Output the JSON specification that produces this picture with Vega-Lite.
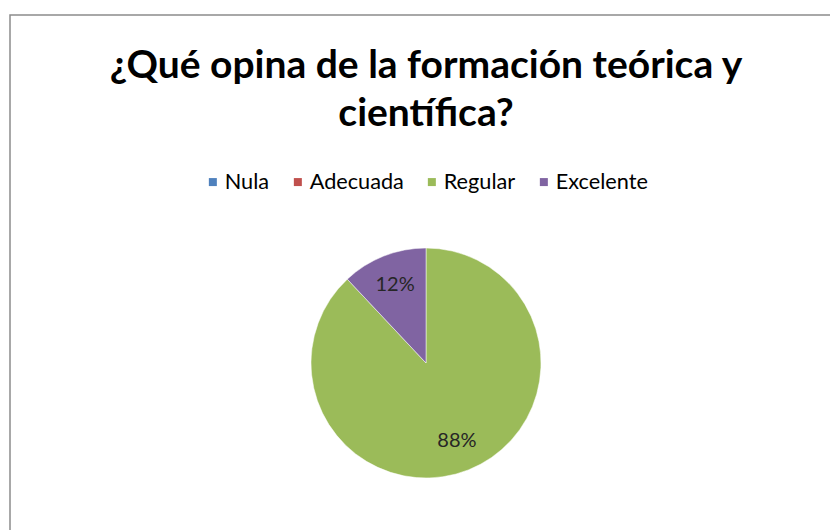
{
  "$schema": "https://vega.github.io/schema/vega-lite/v6.json",
  "autosize": {"type": "none"},
  "padding": {"left": 10, "top": 15, "right": 0, "bottom": 0},
  "width": 832,
  "height": 696,
  "background": "white",
  "view": {"stroke": "#8c8c8c", "strokeWidth": 1.5, "fill": "white"},
  "config": {
    "view": {"stroke": "#8c8c8c", "strokeWidth": 1.5},
    "font": "Lato"
  },
  "title": {
    "text": ["¿Qué opina de la formación teórica y", "científica?"],
    "anchor": "middle",
    "frame": "group",
    "orient": "top",
    "baseline": "top",
    "offset": -119,
    "font": "Lato",
    "fontSize": 39,
    "fontWeight": "bold",
    "color": "#000000",
    "lineHeight": 48
  },
  "data": {
    "values": [
      {"categoria": "Nula", "valor": 0, "orden": 1},
      {"categoria": "Adecuada", "valor": 0, "orden": 2},
      {"categoria": "Regular", "valor": 0.88, "orden": 3},
      {"categoria": "Excelente", "valor": 0.12, "orden": 4}
    ]
  },
  "encoding": {
    "theta": {"field": "valor", "type": "quantitative", "stack": true},
    "order": {"field": "orden", "type": "quantitative"},
    "color": {
      "field": "categoria",
      "type": "nominal",
      "sort": ["Nula", "Adecuada", "Regular", "Excelente"],
      "scale": {
        "domain": ["Nula", "Adecuada", "Regular", "Excelente"],
        "range": ["#4F81BD", "#C0504D", "#9BBB59", "#8064A2"]
      },
      "legend": {
        "title": null,
        "orient": "none",
        "direction": "horizontal",
        "legendX": 192,
        "legendY": 156,
        "symbolType": "square",
        "symbolSize": 64,
        "symbolStrokeWidth": 0,
        "labelFont": "Lato",
        "labelFontSize": 21.7,
        "labelColor": "#000000",
        "columnPadding": 17,
        "labelOffset": 1
      }
    }
  },
  "layer": [
    {
      "mark": {"type": "arc", "outerRadius": 115, "stroke": "white", "strokeWidth": 0.5}
    },
    {
      "transform": [{"filter": "datum.valor > 0"}],
      "mark": {"type": "text", "radius": 84, "font": "Lato", "fontSize": 20, "color": "#262626"},
      "encoding": {
        "text": {"field": "valor", "type": "quantitative", "format": ".0%"},
        "color": {"value": "#262626"}
      }
    }
  ]
}
